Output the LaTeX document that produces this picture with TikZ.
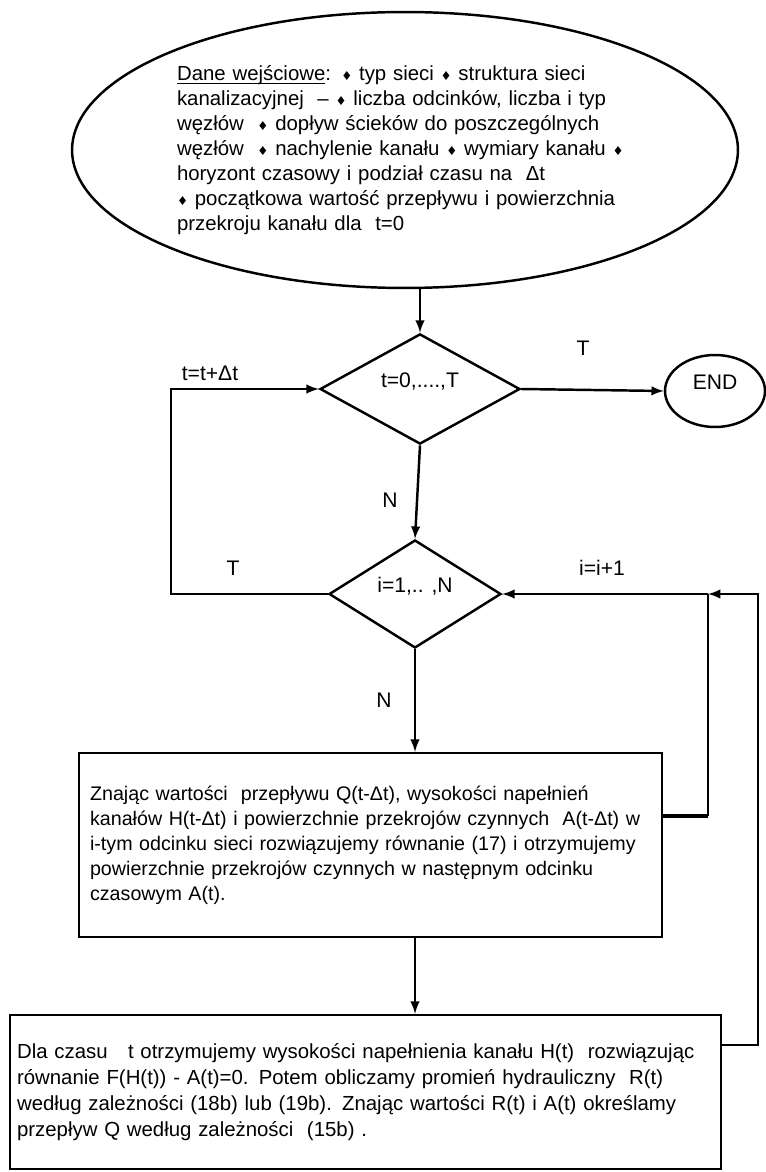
\documentclass[tikz,border=0pt]{standalone}
\usepackage{fontspec}
\setmainfont{Liberation Sans}
\newfontfamily\symfont{DejaVu Sans}
\usetikzlibrary{arrows,shapes.geometric,positioning}
\newcommand{\bul}{{\symfont\fontsize{7}{7}\selectfont ♦}}
\newcommand{\uln}[1]{\setbox0\hbox{#1}\rlap{\rule[-1.8pt]{\wd0}{0.6pt}}\box0}

\begin{document}
\begin{tikzpicture}[x=0.02cm,y=-0.02cm,>=latex,line width=1.4pt,
        every node/.style={font=\fontsize{12}{14.2}\selectfont},
        dec/.style={diamond,draw,inner sep=0pt,text depth=10pt},
        box/.style={rectangle,draw,align=left,inner ysep=0pt}]
        \useasboundingbox (0,0) rectangle (766,1172);

        \node[ellipse,draw,minimum width=13.32cm,minimum height=5.52cm,inner sep=0pt,
        text width=9.12cm,align=left,font=\fontsize{11.6}{14.2}\selectfont] (start) at (405,150)
        {\uln{Dane wejściowe}: \bul\ typ sieci \bul\ struktura sieci\\
        kanalizacyjnej~ – \bul\ liczba odcinków, liczba i typ\\
        węzłów~ \bul\ dopływ ścieków do poszczególnych\\
        węzłów~ \bul\ nachylenie kanału \bul\ wymiary kanału \bul\\
        horyzont czasowy i podział czasu na~ Δt\\
        \bul\ początkowa wartość przepływu i powierzchnia\\
        przekroju kanału dla~ t=0};

        \node[dec,minimum width=4cm,minimum height=2.16cm] (d1) at (420,389) {t=0,....,T};
        \node[ellipse,draw,minimum width=2cm,minimum height=1.44cm,inner sep=0pt,
        text depth=10pt] (stop) at (715,391) {END};
        \node[dec,minimum width=3.44cm,minimum height=2cm] (d2) at (415,594) {i=1,.. ,N};

        \node[box,text width=11.22cm,inner xsep=0.22cm,minimum height=3.68cm,
        font=\fontsize{11.2}{14.2}\selectfont] (box1) at (370.5,845)
        {Znając wartości~ przepływu Q(t-Δt), wysokości napełnień\\
        kanałów H(t-Δt) i powierzchnie przekrojów czynnych~ A(t-Δt) w\\
        i-tym odcinku sieci rozwiązujemy równanie (17) i otrzymujemy\\
        powierzchnie przekrojów czynnych w następnym odcinku\\
        czasowym A(t).};

        \node[box,text width=13.94cm,inner xsep=0.14cm,minimum height=3.08cm,
        font=\fontsize{11.6}{14.8}\selectfont] (box2) at (365.5,1092)
        {Dla czasu~~ t otrzymujemy wysokości napełnienia kanału H(t)~ rozwiązując\\
        równanie F(H(t)) - A(t)=0. Potem obliczamy promień hydrauliczny~ R(t)\\
        według zależności (18b) lub (19b). Znając wartości R(t) i A(t) określamy\\
        przepływ Q według zależności~ (15b) .};

        \node (ldt) at (210,373) {t=t+Δt};
        \node (lT1) at (583,348) {T};
        \node (lN1) at (390,500) {N};
        \node (lT2) at (233,568) {T};
        \node (linc) at (602,568) {i=i+1};
        \node (lN2) at (384,700) {N};

        \draw[->] (start.south -| d1.north) -- (d1.north);
        \draw[->] (d1.east) -- (stop.west);
        \draw[->] (d1.south) -- (d2.north);
        \draw[->] (d2.west) -- ++(-157,0) |- (d1.west);
        \draw[->] (d2.south) -- (d2.south |- box1.north);
        \draw[->] (d2.south |- box1.south) -- (d2.south |- box2.north);

        \coordinate (j1) at (708,594);
        \coordinate (j2) at (758,594);
        \draw[line width=2.6pt] ([yshift=0.58cm]box1.east) -- ([yshift=0.58cm]box1.east -| j1);
        \draw ([yshift=0.58cm]box1.east -| j1) -- (j1);
        \draw[->] (j1) -- (d2.east);
        \draw[->] ([yshift=0.94cm]box2.east) -| (j2) -- (j1);
\end{tikzpicture}
\end{document}
